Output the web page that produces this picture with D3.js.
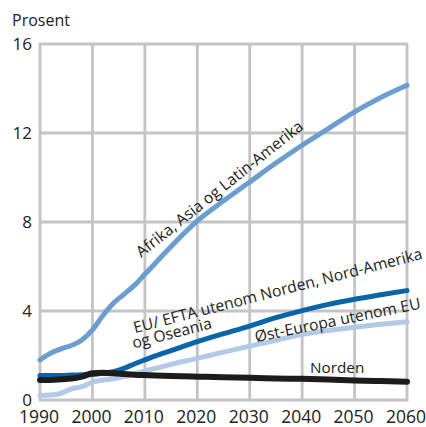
<!DOCTYPE html>
<html>
<head>
<meta charset="utf-8">
<script src="https://cdn.jsdelivr.net/npm/d3@7"></script>
<style>
  html, body { margin: 0; padding: 0; background: #fff; }
  svg { display: block; font-family: "Open Sans", "Noto Sans", sans-serif; }
</style>
</head>
<body>
<svg id="chart" width="426" height="427"></svg>
<script>
const years = [1990,1992,1994,1996,1998,2000,2002,2004,2006,2008,2010,2012,2015,2020,2025,2030,2035,2040,2045,2050,2055,2060];
const afrikaAsiaLatin = [1.8,2.1,2.3,2.45,2.7,3.15,3.8,4.35,4.75,5.15,5.65,6.15,6.9,8.05,8.95,9.8,10.65,11.45,12.2,12.95,13.6,14.15];
const euEftaNordAmerika = [1.1,1.1,1.1,1.12,1.13,1.15,1.2,1.27,1.42,1.62,1.8,1.98,2.22,2.62,2.98,3.32,3.7,4.02,4.3,4.53,4.73,4.92];
const ostEuropa = [0.2,0.22,0.3,0.5,0.6,0.8,0.9,0.95,1.05,1.17,1.3,1.42,1.6,1.87,2.15,2.42,2.68,2.95,3.12,3.27,3.4,3.52];
const norden = [0.9,0.9,0.93,0.97,1.05,1.2,1.22,1.2,1.17,1.14,1.12,1.1,1.08,1.05,1.02,1.0,0.97,0.95,0.92,0.88,0.85,0.82];
const xTicks = [1990,2000,2010,2020,2030,2040,2050,2060];
const yTicks = [0,4,8,12,16];
const yTitle = "Prosent";

const svg = d3.select("#chart");
const x = d3.scaleLinear().domain([1990, 2060]).range([40, 407]);
const y = d3.scaleLinear().domain([0, 16]).range([400, 44]);

const gridColor = "#c4c4c4";
const textColor = "#222";

const grid = svg.append("g");
grid.append("path")
  .attr("d", xTicks.map(d => `M${x(d)},${y(0) + 1}V${y(16) - 1}`).join("") +
             yTicks.map(d => `M${x(1990) - 1},${y(d)}H${x(2060) + 1}`).join(""))
  .attr("fill", "none")
  .attr("stroke", gridColor)
  .attr("stroke-width", 2.8);

svg.append("g").selectAll("text").data(xTicks).join("text")
  .attr("x", d => x(d) - 1).attr("y", 423)
  .attr("text-anchor", "middle").attr("fill", textColor).attr("font-size", 17.5)
  .text(d => d);

svg.append("g").selectAll("text").data(yTicks).join("text")
  .attr("x", 32).attr("y", d => y(d)).attr("dy", "0.36em")
  .attr("text-anchor", "end").attr("fill", textColor).attr("font-size", 17)
  .text(d => d);

svg.append("text").attr("x", 12).attr("y", 26).attr("fill", textColor)
  .attr("font-size", 16).text(yTitle);

const series = [
  { values: ostEuropa, color: "#b2c9e7", width: 5 },
  { values: afrikaAsiaLatin, color: "#6b9ecf", width: 5 },
  { values: euEftaNordAmerika, color: "#0a64a8", width: 5 },
  { values: norden, color: "#1c1c1c", width: 6 }
];

const line = d3.line().x((d, i) => x(years[i])).y(d => y(d)).curve(d3.curveMonotoneX);
svg.append("g").selectAll("path").data(series).join("path")
  .attr("d", s => line(s.values))
  .attr("fill", "none")
  .attr("stroke", s => s.color)
  .attr("stroke-width", s => s.width)
  .attr("stroke-linecap", "round")
  .attr("stroke-linejoin", "round");

const labels = [
  { lines: ["Afrika, Asia og Latin-Amerika"], yr: 2009.3, v: 6.38, angle: -38.5, size: 15.7 },
  { lines: ["EU/ EFTA utenom Norden, Nord-Amerika", "og Oseania"], yr: 2008.1, v: 3.0, angle: -14.5, size: 15.7 },
  { lines: ["Øst-Europa utenom EU"], yr: 2031.2, v: 2.6, angle: -11.5, size: 15.7 },
  { lines: ["Norden"], yr: 2041.5, v: 1.2, angle: 0, size: 15.3 }
];
labels.forEach(l => {
  const t = svg.append("text")
    .attr("transform", `translate(${x(l.yr)},${y(l.v)}) rotate(${l.angle})`)
    .attr("fill", textColor).attr("font-size", l.size);
  l.lines.forEach((s, i) => {
    t.append("tspan").attr("x", i === 0 ? 0 : -5).attr("y", i * 14.5).text(s);
  });
});
</script>
</body>
</html>
